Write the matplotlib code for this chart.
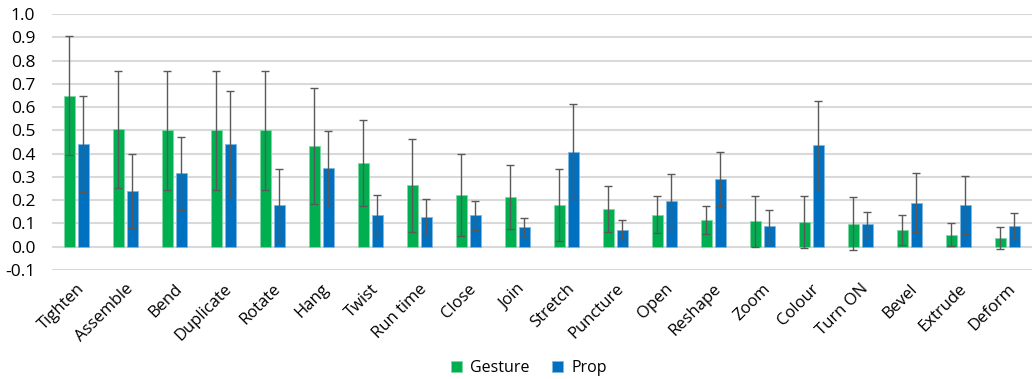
import matplotlib.pyplot as plt
import numpy as np

plt.rcParams['font.family'] = ['Open Sans', 'DejaVu Sans']

# data
actions = ['Tighten', 'Assemble', 'Bend', 'Duplicate', 'Rotate', 'Hang', 'Twist',
           'Run time', 'Close', 'Join', 'Stretch', 'Puncture', 'Open', 'Reshape',
           'Zoom', 'Colour', 'Turn ON', 'Bevel', 'Extrude', 'Deform']
gesture = [0.648, 0.504, 0.500, 0.500, 0.500, 0.433, 0.361, 0.265, 0.222, 0.213,
           0.180, 0.162, 0.138, 0.113, 0.109, 0.105, 0.099, 0.072, 0.052, 0.037]
gesture_err = [0.256, 0.250, 0.256, 0.256, 0.256, 0.249, 0.185, 0.200, 0.177, 0.137,
               0.154, 0.100, 0.081, 0.060, 0.111, 0.111, 0.114, 0.063, 0.048, 0.047]
prop = [0.441, 0.241, 0.315, 0.441, 0.178, 0.338, 0.135, 0.128, 0.136, 0.083,
        0.408, 0.074, 0.196, 0.291, 0.087, 0.437, 0.096, 0.189, 0.179, 0.089]
prop_err = [0.207, 0.159, 0.156, 0.228, 0.155, 0.160, 0.086, 0.078, 0.062, 0.041,
            0.204, 0.042, 0.118, 0.116, 0.071, 0.190, 0.055, 0.126, 0.123, 0.056]

GREEN = '#00b050'
BLUE = '#0070c0'
ERR = dict(ecolor='#595959', elinewidth=1.0, capsize=3, capthick=1.0)

fig = plt.figure(figsize=(10.36, 3.79), dpi=100)
ax = fig.add_axes([0.050, 0.2876, 0.946, 0.6755])

x = np.arange(len(actions))
w = 0.22
ax.bar(x - 0.14, gesture, w, color=GREEN, edgecolor='#7fd7a6', linewidth=0.6,
       yerr=gesture_err, error_kw=ERR, label='Gesture', zorder=3)
ax.bar(x + 0.14, prop, w, color=BLUE, edgecolor='#7fb7df', linewidth=0.6,
       yerr=prop_err, error_kw=ERR, label='Prop', zorder=3)

ax.set_xlim(-0.5, len(actions) - 0.5)
ax.set_ylim(-0.1, 1.0)
ax.set_yticks(np.arange(-0.1, 1.01, 0.1))
ax.set_yticklabels(['%.1f' % v for v in np.arange(-0.1, 1.01, 0.1)])
ax.yaxis.grid(True, color='#d9d9d9', linewidth=1.5, zorder=0)
ax.set_axisbelow(True)
for s in ax.spines.values():
    s.set_visible(False)
ax.tick_params(axis='both', length=0, colors='#000000')
ax.tick_params(axis='y', pad=12, labelsize=12.5)

ax.set_xticks(x)
ax.set_xticklabels(actions, rotation=45, ha='right', rotation_mode='anchor')
ax.tick_params(axis='x', pad=8, labelsize=12)

ax.legend(loc='lower center', bbox_to_anchor=(0.487, -0.47), ncol=2, frameon=False,
          fontsize=11.5, handlelength=0.7, handleheight=0.7, handletextpad=0.5,
          columnspacing=1.4)

fig.savefig('out.png', dpi=100)
